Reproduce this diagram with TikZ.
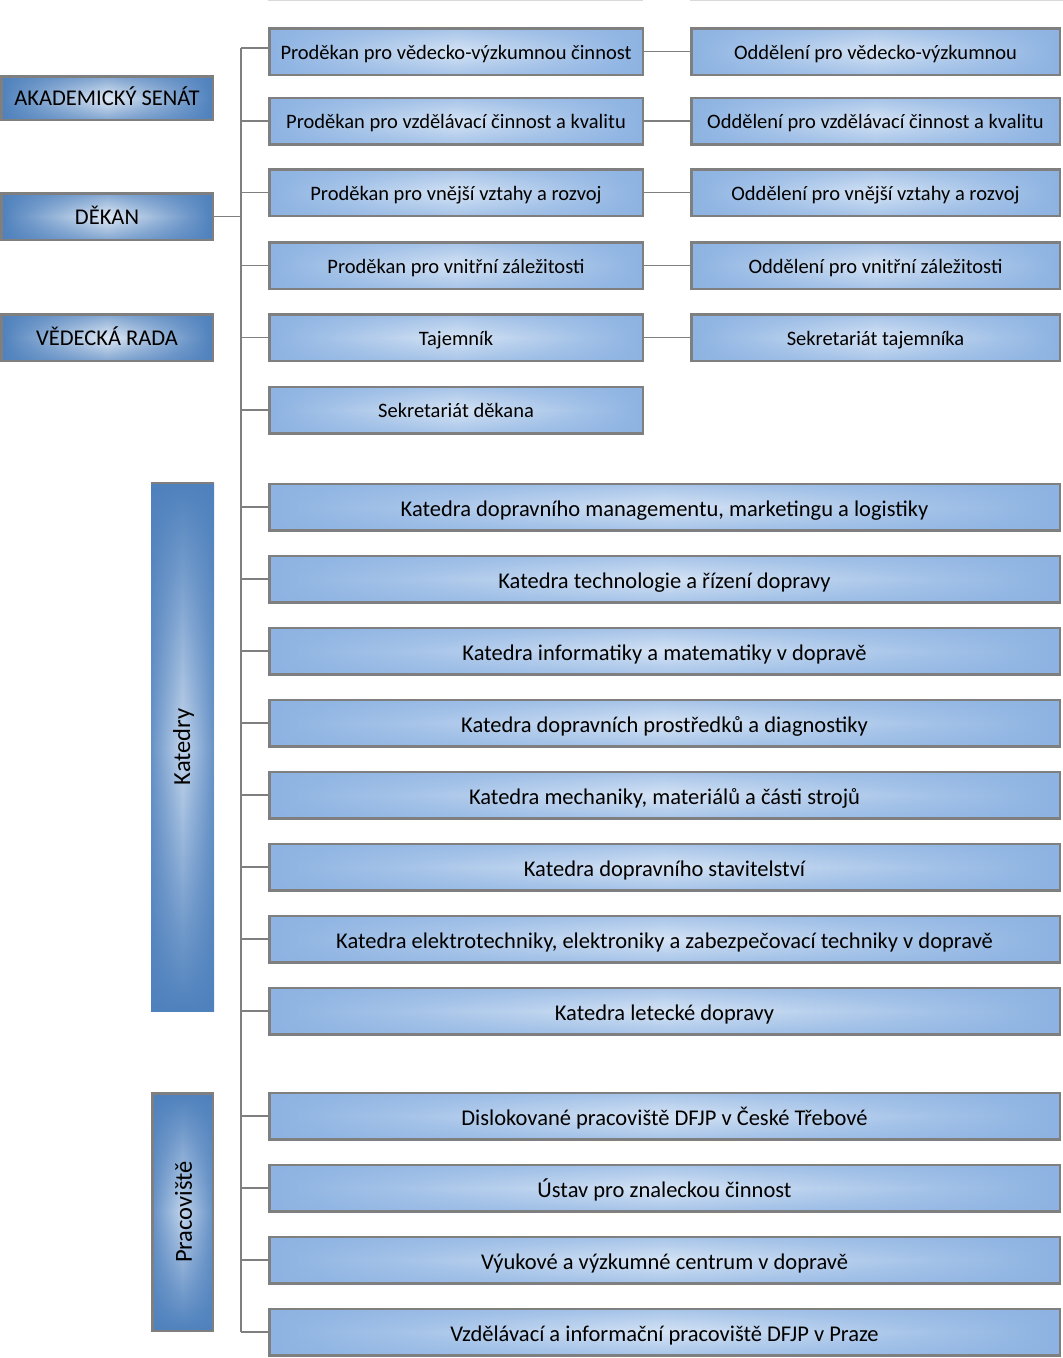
\documentclass[tikz,border=0pt]{standalone}
\usepackage{fontspec}
\setmainfont{Carlito}
\usetikzlibrary{fadings}
\definecolor{edgeA}{HTML}{8DB3E2}
\definecolor{midA}{HTML}{D6E4F5}
\definecolor{edgeB}{HTML}{4F81BD}
\definecolor{midB}{HTML}{E2EBF6}
\definecolor{midK}{HTML}{C3D5EC}
\definecolor{bord}{HTML}{7F7F7F}
\definecolor{faintc}{HTML}{D9D9D9}
\tikzfading[name=vedge, top color=transparent!35, bottom color=transparent!35, middle color=transparent!100]
\tikzfading[name=hedge, left color=transparent!20, right color=transparent!20, middle color=transparent!100]
\tikzset{
  basebox/.style={draw=bord, line width=2.5pt, inner sep=0pt, minimum height=46.5pt, text=black, text depth=0pt},
  lightbox/.style={basebox,
    preaction={left color=edgeA, right color=edgeA, middle color=midA},
    preaction={fill=edgeA, path fading=vedge}},
  darkbox/.style={basebox,
    preaction={left color=edgeB, right color=edgeB, middle color=midB},
    preaction={fill=edgeB, path fading=vedge}},
  colone/.style={lightbox, minimum width=373.5pt, text height=15pt, font=\fontsize{20.5}{24}\selectfont},
  coltwo/.style={lightbox, minimum width=368.5pt, text height=15pt, font=\fontsize{20.5}{24}\selectfont},
  widebox/.style={lightbox, minimum width=790.5pt, text height=18.5pt, font=\fontsize{22.5}{26}\selectfont},
  leftbox/.style={darkbox, minimum width=211.5pt, text height=15.5pt, font=\fontsize{22.5}{26}\selectfont},
  sidebar/.style={inner sep=0pt, minimum width=63pt, text=black,
    preaction={top color=edgeB, bottom color=edgeB, middle color=midK},
    preaction={fill=edgeB, path fading=hedge}},
  sidelabel/.style={rotate=90, font=\fontsize{24.5}{28}\selectfont, text=black},
  conn/.style={draw=bord, line width=1.4pt},
  faint/.style={draw=faintc, line width=1.5pt}
}
\begin{document}
\begin{tikzpicture}[x=1pt,y=-1pt]
\useasboundingbox (0,0) rectangle (1063,1358);
\fill[white] (0,0) rectangle (1063,1358);
\draw[faint] (268,0.7) -- (643,0.7);
\draw[faint] (690,0.7) -- (1063,0.7);

% left boxes
\node[leftbox, minimum height=43.5pt] (senat) at (107,98) {AKADEMICKÝ SENÁT};
\node[leftbox] (dekan) at (107,216.5) {DĚKAN};
\node[leftbox] (rada) at (107,337.5) {VĚDECKÁ RADA};

% column one
\node[colone] (p1) at (456,51.5) {Proděkan pro vědecko-výzkumnou činnost};
\node[colone] (p2) at (456,121) {Proděkan pro vzdělávací činnost a kvalitu};
\node[colone] (p3) at (456,192.5) {Proděkan pro vnější vztahy a rozvoj};
\node[colone] (p4) at (456,265.5) {Proděkan pro vnitřní záležitosti};
\node[colone] (p5) at (456,337.5) {Tajemník};
\node[colone] (p6) at (456,410) {Sekretariát děkana};

% column two
\node[coltwo] (o1) at (875.5,51.5) {Oddělení pro vědecko-výzkumnou};
\node[coltwo] (o2) at (875.5,121) {Oddělení pro vzdělávací činnost a kvalitu};
\node[coltwo] (o3) at (875.5,192.5) {Oddělení pro vnější vztahy a rozvoj};
\node[coltwo] (o4) at (875.5,265.5) {Oddělení pro vnitřní záležitosti};
\node[coltwo] (o5) at (875.5,337.5) {Sekretariát tajemníka};

% wide boxes
\node[widebox] (k1) at (664.5,507) {Katedra dopravního managementu, marketingu a logistiky};
\node[widebox] (k2) at (664.5,579) {Katedra technologie a řízení dopravy};
\node[widebox] (k3) at (664.5,651) {Katedra informatiky a matematiky v dopravě};
\node[widebox] (k4) at (664.5,723) {Katedra dopravních prostředků a diagnostiky};
\node[widebox] (k5) at (664.5,795) {Katedra mechaniky, materiálů a části strojů};
\node[widebox] (k6) at (664.5,867) {Katedra dopravního stavitelství};
\node[widebox] (k7) at (664.5,939) {Katedra elektrotechniky, elektroniky a zabezpečovací techniky v dopravě};
\node[widebox] (k8) at (664.5,1011) {Katedra letecké dopravy};
\node[widebox] (w1) at (664.5,1116) {Dislokované pracoviště DFJP v České Třebové};
\node[widebox] (w2) at (664.5,1188) {Ústav pro znaleckou činnost};
\node[widebox] (w3) at (664.5,1260) {Výukové a výzkumné centrum v dopravě};
\node[widebox] (w4) at (664.5,1332) {Vzdělávací a informační pracoviště DFJP v Praze};

% side bars
\node[sidebar, minimum height=528pt] (katedry) at (182.5,747) {};
\draw[draw=bord, line width=2.5pt] (katedry.north west) -- (katedry.north east);
\node[sidelabel] at ([xshift=1pt]katedry.center) {Katedry};
\node[sidebar, draw=bord, line width=2.5pt, minimum width=60.5pt, minimum height=237.5pt] (prac) at (182.5,1212) {};
\node[sidelabel] at ([xshift=1pt]prac.center) {Pracoviště};

% tree
\coordinate (trunk) at (241,0);
\coordinate (top) at (241,48);
\draw[conn] (top) -- (w4.west -| trunk);
\draw[conn] (dekan.east) -- (dekan.east -| trunk);
\draw[conn] (top) -- (top -| p1.west);
\foreach \b in {p2,p3,p4,p5,p6,k1,k2,k3,k4,k5,k6,k7,k8,w1,w2,w3,w4}{
  \draw[conn] (\b.west -| trunk) -- (\b.west);
}
\foreach \i in {1,2,3,4,5}{
  \draw[conn] (p\i.east) -- (o\i.west);
}
\end{tikzpicture}
\end{document}
